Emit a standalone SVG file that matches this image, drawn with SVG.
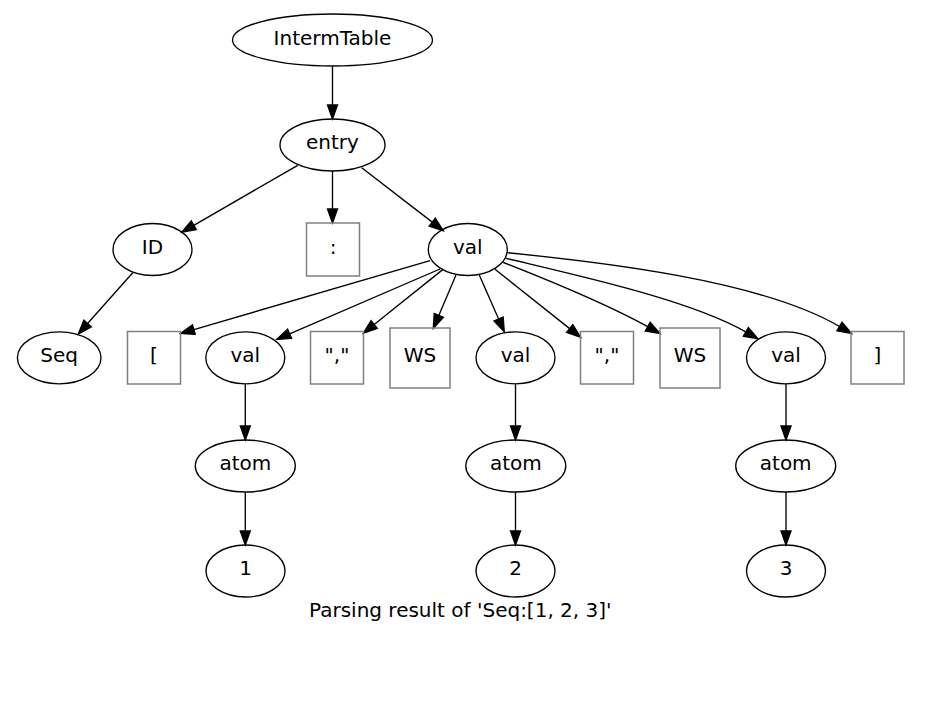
<svg xmlns="http://www.w3.org/2000/svg" width="930" height="710" viewBox="0 0 930 710">
<style>
text{font-family:"DejaVu Sans","Liberation Sans",sans-serif;font-size:20px;fill:#000;text-anchor:middle}
.n ellipse{fill:none;stroke:#000;stroke-width:1.35}
.t rect{fill:none;stroke:#808080;stroke-width:1.5}
#edges path{fill:none;stroke:#000;stroke-width:1.35;marker-end:url(#ah)}
</style>
<defs>
<marker id="ah" markerUnits="userSpaceOnUse" markerWidth="16" markerHeight="12" refX="0" refY="0" orient="auto" overflow="visible">
<path d="M0,-5 L14,0 L0,5 z" fill="#000" stroke="#000" stroke-width="1.35"/>
</marker>
</defs>
<rect width="930" height="710" fill="#fff"/>
<g id="edges">
<path d="M332.5,66 L332.5,105"/>
<path d="M297.7,165.3 L193.8,225.3"/>
<path d="M332.5,171 L332.5,209"/>
<path d="M361.7,167.7 L432.2,222.1"/>
<path d="M132.7,272.7 L87.6,323.5"/>
<path d="M430,260.7 L193.9,329.6"/>
<path d="M440,269 L289.6,333.8"/>
<path d="M442.7,269.6 L374.2,324.5"/>
<path d="M456,275 L438.8,315.4"/>
<path d="M479.3,275 L498.6,318.9"/>
<path d="M495,269.3 L569.7,328.6"/>
<path d="M503.3,262.5 C553,282 610,306 647.7,326.7"/>
<path d="M506,258.3 C580,276 690,300 745.8,331.9"/>
<path d="M507.3,252.7 C600,262 760,280 839.5,326.5"/>
<path d="M245.3,384 L245.3,426"/>
<path d="M245.3,492 L245.3,531"/>
<path d="M515.5,384 L515.5,426"/>
<path d="M515.5,492 L515.5,531"/>
<path d="M786,384 L786,426"/>
<path d="M786,492 L786,531"/>
</g>
<g id="n_intermtable" class="n"><ellipse cx="332.5" cy="40" rx="100" ry="26"/><text x="332.5" y="44.5">IntermTable</text></g>
<g id="n_entry" class="n"><ellipse cx="332.5" cy="145" rx="52.5" ry="26"/><text x="332.5" y="149">entry</text></g>
<g id="n_id" class="n"><ellipse cx="152.5" cy="249.5" rx="39.5" ry="26"/><text x="152.5" y="253.5">ID</text></g>
<g id="t_colon" class="t"><rect x="306.5" y="223" width="53" height="53"/><text x="333" y="253.5">:</text></g>
<g id="n_val" class="n"><ellipse cx="467.8" cy="249.5" rx="39.5" ry="26"/><text x="467.8" y="253.5">val</text></g>
<g id="n_seq" class="n"><ellipse cx="59.2" cy="357.8" rx="41.8" ry="26"/><text x="59.2" y="361.8">Seq</text></g>
<g id="t_lbracket" class="t"><rect x="127.5" y="331.5" width="53" height="52.5"/><text x="154" y="361.8">[</text></g>
<g id="n_val1" class="n"><ellipse cx="245.3" cy="357.8" rx="39.5" ry="26"/><text x="245.3" y="361.8">val</text></g>
<g id="t_comma1" class="t"><rect x="310.5" y="331.5" width="53" height="52.5"/><text x="337" y="361.8">","</text></g>
<g id="t_ws1" class="t"><rect x="390" y="328" width="60" height="60"/><text x="420" y="361.8">WS</text></g>
<g id="n_val2" class="n"><ellipse cx="515.5" cy="357.8" rx="39.5" ry="26"/><text x="515.5" y="361.8">val</text></g>
<g id="t_comma2" class="t"><rect x="580.5" y="331.5" width="53" height="52.5"/><text x="607" y="361.8">","</text></g>
<g id="t_ws2" class="t"><rect x="660" y="328" width="60" height="60"/><text x="690" y="361.8">WS</text></g>
<g id="n_val3" class="n"><ellipse cx="786" cy="357.8" rx="39.5" ry="26"/><text x="786" y="361.8">val</text></g>
<g id="t_rbracket" class="t"><rect x="851" y="331.5" width="53" height="52.5"/><text x="877.5" y="361.8">]</text></g>
<g id="n_atom1" class="n"><ellipse cx="245.3" cy="466" rx="50" ry="26"/><text x="245.3" y="470">atom</text></g>
<g id="n_atom2" class="n"><ellipse cx="515.8" cy="466" rx="50" ry="26"/><text x="515.8" y="470">atom</text></g>
<g id="n_atom3" class="n"><ellipse cx="785.7" cy="466" rx="50" ry="26"/><text x="785.7" y="470">atom</text></g>
<g id="n_1" class="n"><ellipse cx="245.5" cy="571" rx="39.5" ry="26"/><text x="245.5" y="575">1</text></g>
<g id="n_2" class="n"><ellipse cx="515.5" cy="571" rx="39.5" ry="26"/><text x="515.5" y="575">2</text></g>
<g id="n_3" class="n"><ellipse cx="786" cy="571" rx="39.5" ry="26"/><text x="786" y="575">3</text></g>
<text id="caption" x="460.3" y="617">Parsing result of 'Seq:[1, 2, 3]'</text>
</svg>
